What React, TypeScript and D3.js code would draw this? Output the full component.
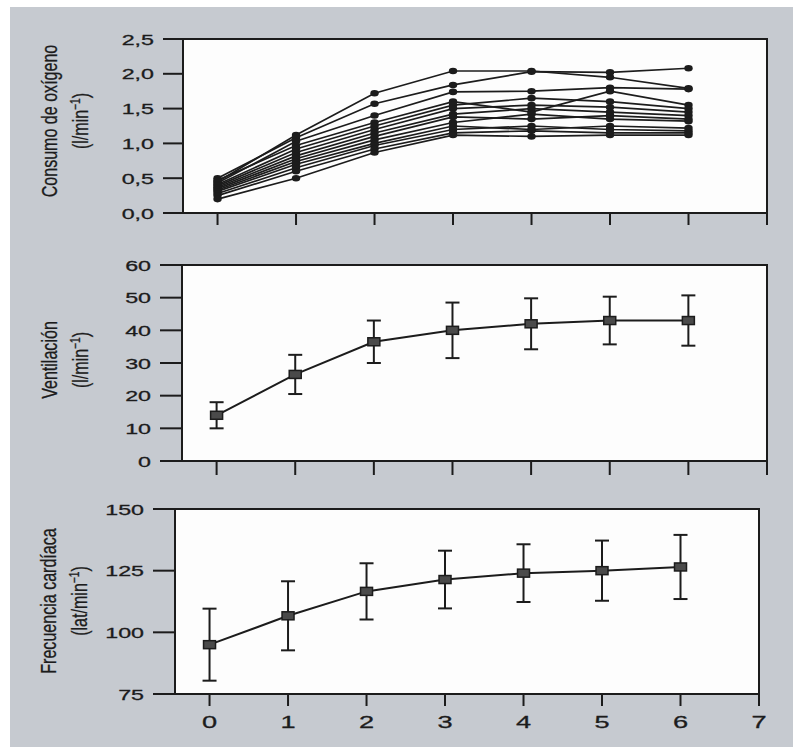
import React from "react";
import * as d3 from "d3";

// ---------- DATA ----------
const times = [0, 1, 2, 3, 4, 5, 6];
const xTicks = [0, 1, 2, 3, 4, 5, 6, 7];

// Oxygen consumption, individual subjects (l/min)
const vo2Subjects: number[][] = [
  [0.45, 1.12, 1.72, 2.04, 2.04, 1.95, 1.79],
  [0.5, 1.08, 1.57, 1.84, 2.03, 2.02, 2.08],
  [0.43, 1.03, 1.4, 1.74, 1.75, 1.8, 1.78],
  [0.47, 0.97, 1.3, 1.6, 1.45, 1.75, 1.55],
  [0.41, 0.92, 1.25, 1.55, 1.65, 1.6, 1.5],
  [0.39, 0.87, 1.2, 1.5, 1.55, 1.52, 1.45],
  [0.37, 0.82, 1.15, 1.42, 1.5, 1.45, 1.4],
  [0.35, 0.78, 1.1, 1.38, 1.35, 1.4, 1.35],
  [0.33, 0.74, 1.05, 1.3, 1.42, 1.35, 1.32],
  [0.31, 0.7, 1.0, 1.25, 1.2, 1.25, 1.22],
  [0.28, 0.65, 0.97, 1.2, 1.25, 1.2, 1.18],
  [0.25, 0.6, 0.92, 1.15, 1.18, 1.15, 1.15],
  [0.2, 0.5, 0.87, 1.12, 1.1, 1.12, 1.12],
];
const vo2Ticks = [0, 0.5, 1.0, 1.5, 2.0, 2.5];
const vo2TickLabels = ["0,0", "0,5", "1,0", "1,5", "2,0", "2,5"];

// Ventilation mean ± SD (l/min)
const veMean = [14, 26.5, 36.5, 40, 42, 43, 43];
const veSd = [4, 6, 6.5, 8.5, 7.8, 7.3, 7.7];
const veTicks = [0, 10, 20, 30, 40, 50, 60];
const veTickLabels = ["0", "10", "20", "30", "40", "50", "60"];

// Heart rate mean ± SD (beats/min)
const hrMean = [95, 106.7, 116.6, 121.4, 124, 125, 126.5];
const hrSd = [14.6, 14, 11.4, 11.7, 11.7, 12.2, 13];
const hrTicks = [75, 100, 125, 150];
const hrTickLabels = ["75", "100", "125", "150"];

// ---------- STYLE ----------
const INK = "#1c1c1c";
const BG = "#c6cad0";
const NUM_FONT = "'Liberation Sans', Arial, sans-serif";

type Panel = {
  left: number;
  right: number;
  top: number;
  bottom: number;
  yDomain: [number, number];
  yTickLen: number;
  xTickLen: number;
};

const P1: Panel = { left: 183, right: 767, top: 39, bottom: 213, yDomain: [0, 2.5], yTickLen: 20, xTickLen: 12 };
const P2: Panel = { left: 182, right: 767, top: 265, bottom: 461, yDomain: [0, 60], yTickLen: 22, xTickLen: 14 };
const P3: Panel = { left: 175, right: 759, top: 509, bottom: 694, yDomain: [75, 150], yTickLen: 22, xTickLen: 12 };

function scales(p: Panel) {
  const x = d3.scaleLinear().domain([-0.44, 7]).range([p.left, p.right]);
  const y = d3.scaleLinear().domain(p.yDomain).range([p.bottom, p.top]);
  return { x, y };
}

function Frame({ p, ticks, labels, showXLabels }: { p: Panel; ticks: number[]; labels: string[]; showXLabels?: boolean }) {
  const { x, y } = scales(p);
  return (
    <g>
      <rect x={p.left} y={p.top} width={p.right - p.left} height={p.bottom - p.top} fill="#fdfdfd" />
      {ticks.map((t, i) => (
        <g key={"y" + i}>
          <line x1={p.left - p.yTickLen} x2={p.left} y1={y(t)} y2={y(t)} stroke={INK} strokeWidth={2} />
          <g transform={`translate(${p.left - p.yTickLen - 9},${y(t)}) scale(1.5,1)`}>
            <text textAnchor="end" dy="0.36em" fontFamily={NUM_FONT} fontSize={15.5} fill={INK} stroke={INK} strokeWidth={0.3}>
              {labels[i]}
            </text>
          </g>
        </g>
      ))}
      {xTicks.map((t) => (
        <g key={"x" + t}>
          <line x1={x(t)} x2={x(t)} y1={p.bottom} y2={p.bottom + p.xTickLen} stroke={INK} strokeWidth={2} />
          {showXLabels && (
            <g transform={`translate(${x(t)},${p.bottom + 34}) scale(1.6,1)`}>
              <text textAnchor="middle" fontFamily={NUM_FONT} fontSize={17} fill={INK} stroke={INK} strokeWidth={0.3}>
                {t}
              </text>
            </g>
          )}
        </g>
      ))}
      <rect
        x={p.left}
        y={p.top}
        width={p.right - p.left}
        height={p.bottom - p.top}
        fill="none"
        stroke={INK}
        strokeWidth={2}
      />
    </g>
  );
}

function Title({ cx, cy, line1, unit }: { cx: number; cy: number; line1: string; unit: string }) {
  const fs = 22;
  return (
    <g fontFamily="'Liberation Sans', Arial, sans-serif" fill={INK} stroke={INK} strokeWidth={0.3}>
      <g transform={`translate(${cx - 1},${cy}) rotate(-90) scale(0.73,1)`}>
        <text textAnchor="middle" fontSize={fs}>
          {line1}
        </text>
      </g>
      <g transform={`translate(${cx + 30},${cy}) rotate(-90) scale(0.73,1)`}>
        <text textAnchor="middle" fontSize={fs}>
          {"(" + unit}
          <tspan fontSize={14} dy={-8}>
            −1
          </tspan>
          <tspan dy={8}>)</tspan>
        </text>
      </g>
    </g>
  );
}

function MeanPanel({ p, mean, sd }: { p: Panel; mean: number[]; sd: number[] }) {
  const { x, y } = scales(p);
  const line = d3
    .line<number>()
    .x((_, i) => x(times[i]))
    .y((d) => y(d));
  return (
    <g>
      <path d={line(mean) || ""} fill="none" stroke={INK} strokeWidth={2} />
      {mean.map((m, i) => {
        const cx = x(times[i]);
        const hi = y(m + sd[i]);
        const lo = y(m - sd[i]);
        return (
          <g key={i} stroke={INK} strokeWidth={2}>
            <line x1={cx} x2={cx} y1={hi} y2={lo} />
            <line x1={cx - 7} x2={cx + 7} y1={hi} y2={hi} />
            <line x1={cx - 7} x2={cx + 7} y1={lo} y2={lo} />
            <rect x={cx - 6} y={y(m) - 4} width={12} height={8} fill="#4a4a4a" strokeWidth={1.5} />
          </g>
        );
      })}
    </g>
  );
}

function SubjectsPanel({ p }: { p: Panel }) {
  const { x, y } = scales(p);
  const line = d3
    .line<number>()
    .x((_, i) => x(times[i]))
    .y((d) => y(d));
  return (
    <g>
      {vo2Subjects.map((s, k) => (
        <path key={"l" + k} d={line(s) || ""} fill="none" stroke={INK} strokeWidth={1.7} />
      ))}
      {vo2Subjects.map((s, k) =>
        s.map((v, i) => <ellipse key={k + "-" + i} cx={x(times[i])} cy={y(v)} rx={4.2} ry={3.3} fill={INK} />)
      )}
    </g>
  );
}

export default function App() {
  return (
    <svg
      width={793}
      height={747}
      viewBox="0 0 793 747"
      style={{ position: "absolute", left: 0, top: 0, display: "block" }}
    >
      <rect x={0} y={0} width={793} height={747} fill="#ffffff" />
      <rect x={10} y={7} width={783} height={740} fill={BG} />

      <Frame p={P1} ticks={vo2Ticks} labels={vo2TickLabels} />
      <SubjectsPanel p={P1} />
      <Title cx={58} cy={121} line1="Consumo de oxígeno" unit="l/min" />

      <Frame p={P2} ticks={veTicks} labels={veTickLabels} />
      <MeanPanel p={P2} mean={veMean} sd={veSd} />
      <Title cx={58} cy={360} line1="Ventilación" unit="l/min" />

      <Frame p={P3} ticks={hrTicks} labels={hrTickLabels} showXLabels />
      <MeanPanel p={P3} mean={hrMean} sd={hrSd} />
      <Title cx={57} cy={601} line1="Frecuencia cardíaca" unit="lat/min" />
    </svg>
  );
}
